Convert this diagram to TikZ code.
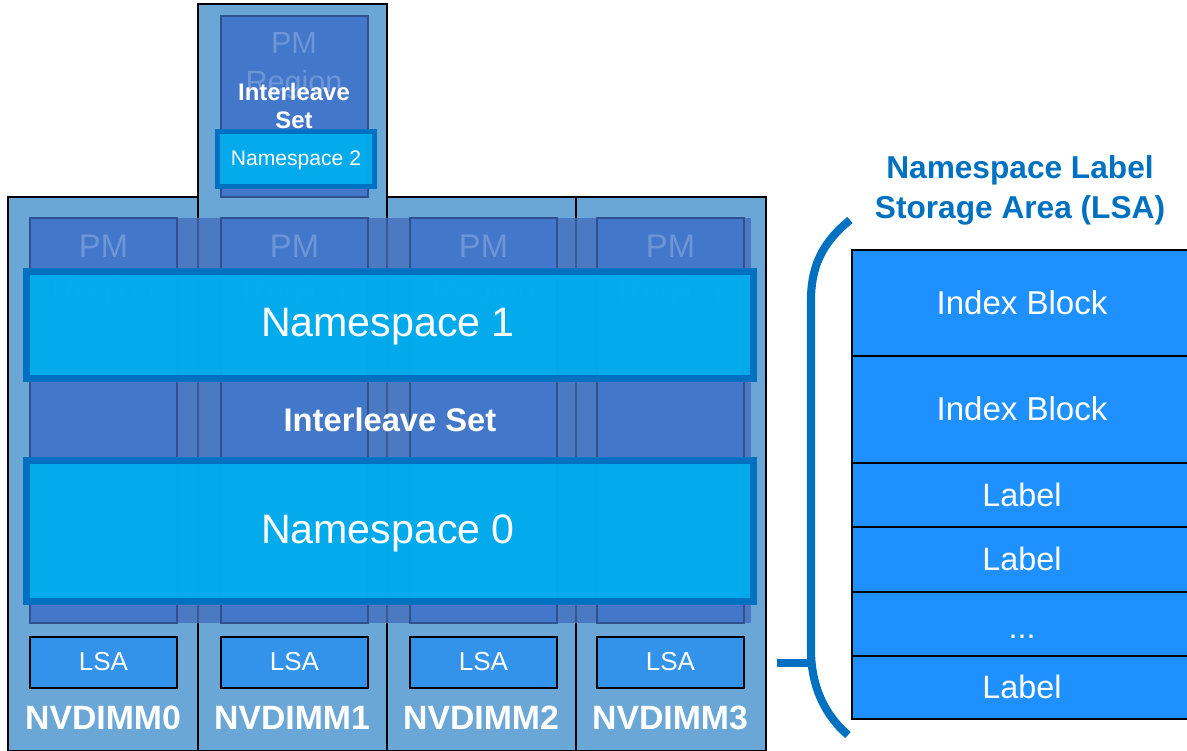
\documentclass[tikz,border=0pt]{standalone}
\usepackage{fontspec}
\setmainfont{Liberation Sans}
\usepackage{tikz}

\definecolor{dimmbg}{HTML}{6AA6D6}
\definecolor{pmblue}{HTML}{4377C9}
\definecolor{pmedge}{HTML}{2F528F}
\definecolor{pmtext}{HTML}{6D96D8}
\definecolor{ilvblue}{HTML}{4470BF}
\definecolor{nsfill}{HTML}{00ADEE}
\definecolor{nsedge}{HTML}{0070C0}
\definecolor{lsafill}{HTML}{3393EA}
\definecolor{labfill}{HTML}{1E90FF}

\tikzset{
  dimm/.style={draw=black, fill=dimmbg, line width=0.4pt},
  pmreg/.style={draw=pmedge, fill=pmblue, line width=0.4pt},
  nsbox/.style={draw=nsedge, fill=nsfill, fill opacity=0.95, line width=2pt},
  lsabox/.style={draw=black, fill=lsafill, line width=0.5pt},
  lblrow/.style={draw=black, fill=labfill, line width=0.5pt},
  pmtxt/.style={text=pmtext, align=center, font=\fontsize{9.3}{12.5}\selectfont},
  wtxt/.style={text=white, align=center},
  wbold/.style={text=white, align=center, font=\bfseries\fontsize{9.6}{11}\selectfont}
}

\begin{document}
\begin{tikzpicture}[x=0.01cm, y=-0.01cm]
    \useasboundingbox (0,0) rectangle (1187,751);
    \clip (0,0) rectangle (1187,751);

    % NVDIMM columns
    \draw [dimm] (8,197) rectangle (198,751);
    \draw [dimm] (198,4) rectangle (387,751);
    \draw [dimm] (387,197) rectangle (576,751);
    \draw [dimm] (576,197) rectangle (766,751);

    % PM region on NVDIMM1 only
    \draw [pmreg] (221,16) rectangle (368,197);
    \node [pmtxt, font=\fontsize{8.7}{11.1}\selectfont] (pmtop) at (294,66) {PM\\Region};
    \node [wbold, font=\bfseries\fontsize{6.8}{8}\selectfont] (ilvtop) at (294,106) {Interleave\\Set};
    \draw [nsbox, line width=1.4pt] (217.5,131.5) rectangle (374.5,186.5);
    \node [wtxt, font=\fontsize{6}{7}\selectfont] (ns2) at (296,160) {Namespace 2};

    % interleave set across all four
    \fill [ilvblue, fill opacity=0.8] (30,218) rectangle (751,623);
    \draw [pmreg] (30,218) rectangle (177,623);
    \draw [pmreg] (221,218) rectangle (368,623);
    \draw [pmreg] (410,218) rectangle (557,623);
    \draw [pmreg] (597,218) rectangle (744,623);
    \node [pmtxt] (pm0) at (103.5,272) {PM\\Region};
    \node [pmtxt] (pm1) at (294.5,272) {PM\\Region};
    \node [pmtxt] (pm2) at (483.5,272) {PM\\Region};
    \node [pmtxt] (pm3) at (670.5,272) {PM\\Region};
    \node [wbold, font=\bfseries\fontsize{9.3}{11}\selectfont] (ilv) at (390,420) {Interleave Set};

    % namespaces
    \draw [nsbox] (26.5,271.5) rectangle (753.5,378.5);
    \node [wtxt, font=\fontsize{11.7}{14}\selectfont] (ns1) at (388,327) {Namespace 1};
    \draw [nsbox] (26.5,460.5) rectangle (753.5,601.5);
    \node [wtxt, font=\fontsize{11.7}{14}\selectfont] (ns0) at (388,533) {Namespace 0};

    % label storage areas
    \draw [lsabox] (30,637) rectangle (177,688);
    \draw [lsabox] (221,637) rectangle (368,688);
    \draw [lsabox] (410,637) rectangle (557,688);
    \draw [lsabox] (597,637) rectangle (744,688);
    \node [wtxt, font=\fontsize{7.4}{9}\selectfont] (lsa0) at (103.5,662) {LSA};
    \node [wtxt, font=\fontsize{7.4}{9}\selectfont] (lsa1) at (294.5,662) {LSA};
    \node [wtxt, font=\fontsize{7.4}{9}\selectfont] (lsa2) at (483.5,662) {LSA};
    \node [wtxt, font=\fontsize{7.4}{9}\selectfont] (lsa3) at (670.5,662) {LSA};

    \node [wbold] (dimm0) at (103,718) {NVDIMM0};
    \node [wbold] (dimm1) at (292,718) {NVDIMM1};
    \node [wbold] (dimm2) at (481,718) {NVDIMM2};
    \node [wbold] (dimm3) at (670,718) {NVDIMM3};

    % LSA layout on the right
    \node [text=nsedge, align=center, font=\bfseries\fontsize{9}{11.4}\selectfont] (lsatitle) at (1020,190) {Namespace Label\\Storage Area (LSA)};
    \draw [lblrow] (852,250) rectangle (1195,356);
    \draw [lblrow] (852,356) rectangle (1195,463);
    \draw [lblrow] (852,463) rectangle (1195,527);
    \draw [lblrow] (852,527) rectangle (1195,592);
    \draw [lblrow] (852,592) rectangle (1195,656);
    \draw [lblrow] (852,656) rectangle (1195,719);
    \node [wtxt, font=\fontsize{9.4}{11}\selectfont] (idx0) at (1022,303) {Index Block};
    \node [wtxt, font=\fontsize{9.4}{11}\selectfont] (idx1) at (1022,409) {Index Block};
    \node [wtxt, font=\fontsize{9.2}{11}\selectfont] (lab0) at (1022,495) {Label};
    \node [wtxt, font=\fontsize{9.2}{11}\selectfont] (lab1) at (1022,559) {Label};
    \node [wtxt, font=\fontsize{9.2}{11}\selectfont] (dots) at (1022,637) {...};
    \node [wtxt, font=\fontsize{9.2}{11}\selectfont] (lab2) at (1022,687) {Label};

    % brace
    \draw [nsedge, line width=2.3pt] (850,220) .. controls (828,238) and (811,260) .. (811,300)
        -- (811,650) .. controls (811,690) and (828,718) .. (848,735);
    \draw [nsedge, line width=2.3pt] (777,663) -- (811,663);
\end{tikzpicture}
\end{document}
